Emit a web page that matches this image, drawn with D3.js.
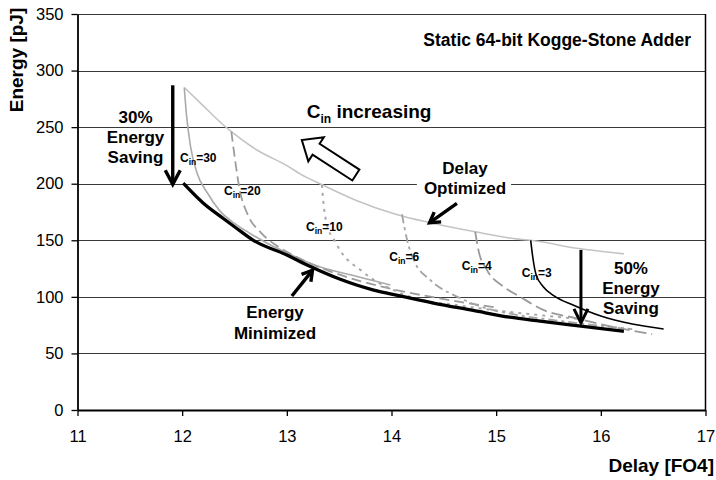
<!DOCTYPE html>
<html>
<head>
<meta charset="utf-8">
<script src="https://cdn.jsdelivr.net/npm/d3@7"></script>
<style>
  body { margin: 0; background: #fff; }
  svg { display: block; font-family: 'Liberation Sans', Arial, Helvetica, sans-serif; }
</style>
</head>
<body>
<svg id="chart" width="716" height="480"></svg>
<script>
// Axis ticks
const xTicks = [11, 12, 13, 14, 15, 16, 17];
const yTicks = [0, 50, 100, 150, 200, 250, 300, 350];

// [delay (FO4), energy (pJ)]
const delayOptimized = [[12.02,285],[12.20,269],[12.38,253],[12.47,246],[12.71,230],[13.00,216],[13.13,208.5],[13.34,199],
  [13.67,185],[14.04,173],[14.37,165.5],[14.80,157.5],[15.21,151],[15.33,150],[15.77,143],[16.22,138]];
const energyMinimized = [[12.01,200.5],[12.20,183],[12.39,169.5],[12.50,162],[12.68,150],[13.00,137],[13.22,127],
  [13.51,115.5],[13.83,106],[14.00,102.5],[14.40,94.5],[14.78,88],[15.13,82],[15.42,78.5],[15.77,74.5],[16.22,69.5]];

// Input-capacitance sweeps
const cin30 = [[12.02,285],[12.04,262],[12.08,233],[12.14,210],[12.24,192],[12.36,176],[12.50,165],[12.65,156],
  [12.84,146],[13.00,139],[13.25,128.5],[13.67,118],[13.99,110.5]];
const cin20 = [[12.47,246],[12.51,218],[12.55,194.5],[12.62,174],[12.75,157],[12.89,146],[13.10,135],[13.40,123],
  [13.70,114],[14.00,107],[14.50,98],[15.00,90.5]];
const cin10 = [[13.335,199],[13.35,183],[13.38,165],[13.46,149],[13.54,137],[13.70,124],[13.83,115],[14.02,106],
  [14.21,99],[14.60,93],[15.00,88],[15.40,84],[15.80,80.5]];
const cin6  = [[14.10,173],[14.15,150],[14.21,133],[14.37,115],[14.63,100],[14.85,91.5],[15.17,84.5],[15.50,80],
  [15.90,75.5],[16.30,71.5]];
const cin4  = [[14.80,157.5],[14.83,141.5],[14.91,124],[15.07,109],[15.23,100],[15.45,88.5],[15.77,81],[16.09,74],[16.49,67]];
const cin3  = [[15.33,150],[15.35,135],[15.38,120],[15.45,109],[15.55,101],[15.74,92.5],[16.00,83],[16.30,76],[16.60,71.6]];

const svg = d3.select("#chart");
const x = d3.scaleLinear().domain([11, 17]).range([77.5, 705.5]);
const y = d3.scaleLinear().domain([0, 350]).range([410, 14]);

const gGrid = svg.append("g");
const gBack = svg.append("g");
const gLines = svg.append("g");
const gAxes = svg.append("g");
const gNotes = svg.append("g");

// Horizontal grid lines and right frame
gGrid.selectAll("line.grid").data(yTicks.filter(d => d > 0)).join("line")
  .attr("x1", x(11)).attr("x2", x(17))
  .attr("y1", d => Math.round(y(d)) + 0.5).attr("y2", d => Math.round(y(d)) + 0.5)
  .attr("stroke", "#3a3a3a").attr("stroke-width", 1);
gGrid.append("line")
  .attr("x1", x(17)).attr("x2", x(17)).attr("y1", y(0)).attr("y2", y(350))
  .attr("stroke", "#000").attr("stroke-width", 1.5);

// Axes
const xAxis = gAxes.append("g").attr("transform", `translate(0,${y(0)})`)
  .call(d3.axisBottom(x).tickValues(xTicks).tickSize(6).tickSizeOuter(0).tickPadding(14).tickFormat(d3.format("d")));
const yAxis = gAxes.append("g").attr("transform", `translate(${x(11)},0)`)
  .call(d3.axisLeft(y).tickValues(yTicks).tickSize(6).tickSizeOuter(0).tickPadding(8).tickFormat(d3.format("d")));
[xAxis, yAxis].forEach(a => {
  a.select(".domain").attr("stroke", "#000").attr("stroke-width", 1.8);
  a.selectAll(".tick line").attr("stroke", "#000").attr("stroke-width", 1.3);
  a.selectAll(".tick text").attr("fill", "#000").style("font-size", "16.5px")
    .style("font-family", "'Liberation Sans', Arial, sans-serif");
});

// Axis titles
svg.append("text").attr("transform", "translate(23,60) rotate(-90)")
  .attr("text-anchor", "middle").style("font-size", "19px").style("font-weight", "bold").text("Energy [pJ]");
svg.append("text").attr("x", 714).attr("y", 472)
  .attr("text-anchor", "end").style("font-size", "19px").style("font-weight", "bold").text("Delay [FO4]");

// Curves
const line = d3.line().x(d => x(d[0])).y(d => y(d[1])).curve(d3.curveMonotoneX);
const series = [
  { data: delayOptimized, stroke: "#c4c4c4", width: 1.6, dash: null },
  { data: cin30, stroke: "#ababab", width: 1.6, dash: null },
  { data: cin20, stroke: "#9c9c9c", width: 1.8, dash: "10,5" },
  { data: cin10, stroke: "#a8a8a8", width: 2, dash: "3,5" },
  { data: cin6,  stroke: "#a4a4a4", width: 1.8, dash: "9,4,3,4" },
  { data: cin4,  stroke: "#9a9a9a", width: 1.8, dash: "12,5" },
  { data: cin3,  stroke: "#000", width: 1.6, dash: null },
  { data: energyMinimized, stroke: "#000", width: 3.3, dash: null }
];
gLines.selectAll("path").data(series).join("path")
  .attr("d", d => line(d.data)).attr("fill", "none")
  .attr("stroke", d => d.stroke).attr("stroke-width", d => d.width)
  .attr("stroke-dasharray", d => d.dash).attr("stroke-linejoin", "round");

// Multi-line bold note centred on a data point
function note(lines, dx, dy, size, lh) {
  const t = gNotes.append("text").attr("text-anchor", "middle")
    .style("font-size", size + "px").style("font-weight", "bold");
  lines.forEach((s, i) => t.append("tspan").attr("x", x(dx)).attr("y", y(dy) + i * lh).text(s));
  return t;
}
note(["30%", "Energy", "Saving"], 11.554, 253.7, 17, 20);
note(["50%", "Energy", "Saving"], 16.288, 120.2, 17, 20);
note(["Energy", "Minimized"], 12.887, 81.3, 17, 21);
const delayNote = note(["Delay", "Optimized"], 14.702, 208.6, 17, 20);
const bb = delayNote.node().getBBox();
gBack.append("rect").attr("x", bb.x - 7).attr("y", bb.y).attr("width", bb.width + 12).attr("height", bb.height)
  .attr("fill", "#fff");

// Title
gNotes.append("text").attr("x", x(16.862)).attr("y", y(321.7)).attr("text-anchor", "end")
  .style("font-size", "17.5px").style("font-weight", "bold").text("Static 64-bit Kogge-Stone Adder");

// C_in labels
function cinText(sx, sy, size, subSize, shift, tail) {
  const t = gNotes.append("text").attr("x", x(sx)).attr("y", y(sy)).attr("fill", "#000")
    .style("font-size", size + "px").style("font-weight", "bold");
  t.append("tspan").text("C");
  t.append("tspan").attr("dy", shift).style("font-size", subSize + "px").text("in");
  t.append("tspan").attr("dy", -shift).text(tail);
}
const cinPos = [[11.979,219.2],[12.400,190.0],[13.183,158.2],[13.979,131.7],[14.671,123.7],[15.244,117.6]];
["30","20","10","6","4","3"].forEach((v, i) => cinText(cinPos[i][0], cinPos[i][1], 12, 8.5, 3, "=" + v));
cinText(13.19, 257.8, 19, 12, 5, " increasing");

// Solid arrows with chevron heads
function arrow(x1, y1, x2, y2, w, len, half) {
  const p1 = [x(x1), y(y1)], p2 = [x(x2), y(y2)];
  const a = Math.atan2(p2[1] - p1[1], p2[0] - p1[0]);
  const c = Math.cos(a), s = Math.sin(a);
  gNotes.append("line").attr("x1", p1[0]).attr("y1", p1[1])
    .attr("x2", p2[0] - c * 2).attr("y2", p2[1] - s * 2)
    .attr("stroke", "#000").attr("stroke-width", w);
  const b = [p2[0] - c * len, p2[1] - s * len];
  gNotes.append("polyline")
    .attr("points", [[b[0] - s * half, b[1] + c * half], p2, [b[0] + s * half, b[1] - c * half]].map(p => p.join(",")).join(" "))
    .attr("fill", "none").attr("stroke", "#000").attr("stroke-width", w).attr("stroke-linejoin", "miter");
}
arrow(11.91, 287, 11.91, 199.5, 3.4, 14, 7.5);
arrow(15.81, 141.5, 15.81, 77, 3, 14, 7);
arrow(14.625, 182.6, 14.363, 165.5, 3.4, 10, 6);
arrow(13.048, 100.8, 13.245, 123.5, 3.4, 10, 6);

// Hollow block arrow showing growth of C_in
const tip = [x(13.143), y(238.6)];
const ang = Math.atan2(-35, -54.1) * 180 / Math.PI;
gNotes.append("polygon")
  .attr("points", [[0,0],[-17,-14.3],[-17,-6.5],[-64.4,-6.5],[-64.4,6.5],[-17,6.5],[-17,14.3]].map(p => p.join(",")).join(" "))
  .attr("transform", `translate(${tip[0]},${tip[1]}) rotate(${ang})`)
  .attr("fill", "#fff").attr("stroke", "#000").attr("stroke-width", 2);
</script>
</body>
</html>
